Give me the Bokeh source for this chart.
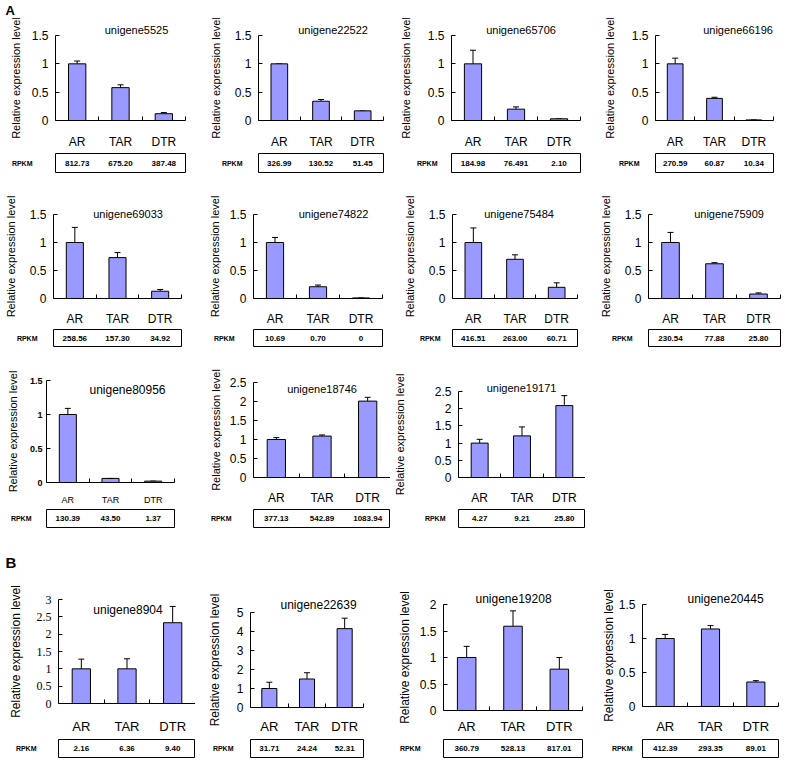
import numpy as np
from bokeh.plotting import figure
from bokeh.models import (Range1d, FactorRange, FixedTicker, CustomJSTickFormatter,
                          Label, Whisker, TeeHead, ColumnDataSource, Title)
from bokeh.layouts import row, column
from bokeh.embed import file_html
from bokeh.resources import INLINE
from bokeh.core.properties import value

# ---------------- data ----------------
categories = ["AR", "TAR", "DTR"]
genes = ["unigene5525", "unigene22522", "unigene65706", "unigene66196",
         "unigene69033", "unigene74822", "unigene75484", "unigene75909",
         "unigene80956", "unigene18746", "unigene19171",
         "unigene8904", "unigene22639", "unigene19208", "unigene20445"]
ar_expr = [1.00, 1.00, 1.00, 1.00, 1.00, 1.00, 1.00, 1.00, 1.00, 1.00, 1.00, 1.00, 1.00, 1.00, 1.00]
tar_expr = [0.58, 0.34, 0.20, 0.39, 0.73, 0.21, 0.70, 0.62, 0.06, 1.09, 1.21, 1.00, 1.50, 1.59, 1.14]
dtr_expr = [0.12, 0.17, 0.03, 0.01, 0.13, 0.01, 0.20, 0.08, 0.02, 2.01, 2.09, 2.33, 4.15, 0.78, 0.36]
ar_err = [0.05, 0.00, 0.24, 0.10, 0.27, 0.09, 0.26, 0.18, 0.09, 0.05, 0.11, 0.28, 0.33, 0.21, 0.06]
tar_err = [0.05, 0.03, 0.04, 0.02, 0.09, 0.03, 0.08, 0.02, 0.00, 0.03, 0.26, 0.29, 0.33, 0.29, 0.05]
dtr_err = [0.02, 0.00, 0.00, 0.00, 0.03, 0.00, 0.08, 0.02, 0.00, 0.10, 0.29, 0.47, 0.55, 0.22, 0.02]
ar_rpkm = ["812.73", "326.99", "184.98", "270.59", "258.56", "10.69", "416.51", "230.54",
           "130.39", "377.13", "4.27", "2.16", "31.71", "360.79", "412.39"]
tar_rpkm = ["675.20", "130.52", "76.491", "60.87", "157.30", "0.70", "263.00", "77.88",
            "43.50", "542.89", "9.21", "6.36", "24.24", "528.13", "293.35"]
dtr_rpkm = ["387.48", "51.45", "2.10", "10.34", "34.92", "0", "60.71", "25.80",
            "1.37", "1083.94", "25.80", "9.40", "52.31", "817.01", "89.01"]
y_max = [1.5, 1.5, 1.5, 1.5, 1.5, 1.5, 1.5, 1.5, 1.5, 2.5, 2.5, 3, 5, 2, 1.5]
y_step = [0.5, 0.5, 0.5, 0.5, 0.5, 0.5, 0.5, 0.5, 0.5, 0.5, 0.5, 0.5, 1, 0.5, 0.5]
ylabel = "Relative expression level"
panel_letters = ["A", "B"]

# ---------------- layout / style ----------------
BAR = "#9999FF"
SANS = "Liberation Sans"
SERIF = "Liberation Serif"
TOTAL_W = 787


def P(i, w, L, R, tL, tR, dx, dy, xs, T=None, B=None, **kw):
    d = dict(i=i, w=w, L=L, R=R, tL=tL, tR=tR, dx=dx, dy=dy, xs=xs, T=T, B=B,
             tick_size="12px", tick_font=SANS, tick_style="normal", cat_size="12px",
             title_px=11, ylab_size="11px", ls=7, als=7, ts=10)
    d.update(kw)
    return d


rows_spec = [
    dict(h=133, th=24, tT=2, tB=3, T=17, B=23, panels=[
        P(0, 195, 52, 7, 55, 10, 13, 6, 8, als=7, ts=17),
        P(1, 195, 63, 7, 53, 1, 12, 6, 8, als=10, ts=10),
        P(2, 195, 61, 5, 58, 1, 5, 6, 8, als=13, ts=8),
        P(3, 202, 61, 14, 70, 7, 19, 6, 8, als=13, ts=10),
    ]),
    dict(h=153, th=22, tT=1, tB=4, T=39, B=21, panels=[
        P(4, 195, 53, 5, 46, 14, 6, 1, 7, als=10, ts=10),
        P(5, 195, 58, 3, 58, 8, 13, 1, 7, als=6, ts=13),
        P(6, 195, 62, 8, 53, 2, 4, 1, 7, als=10, ts=6),
        P(7, 202, 62, 7, 63, 7, 14, 1, 7, als=10, ts=10),
    ]),
    dict(h=157, th=24, tT=2, tB=4, T=None, B=None, panels=[
        P(8, 195, 42, 0, 46, 21, 17, -9, 6, T=30, B=19, tick_size="9px", tick_style="bold",
          cat_size="9px", title_px=12, ls=4, als=8, ts=9),
        P(9, 195, 58, 0, 53, 0, 0, -6, 7, T=32, B=21, als=5, ts=16),
        P(10, 195, 63, 0, 55, 0, -3, 4, 7, T=41, B=21, als=26, ts=7),
    ]),
    dict(h=161, th=24, tT=3, tB=3, T=None, B=None, panels=[
        P(11, 195, 53, 0, 58, 0, 1, -10, 9, T=24, B=29, tick_font=SERIF, cat_size="13px",
          title_px=12, ylab_size="12px", als=11, ts=16),
        P(12, 195, 55, 0, 54, 27, -2, 7, 5, T=37, B=25, cat_size="13px",
          title_px=12, ylab_size="12px", als=12, ts=11),
        P(13, 195, 53, 0, 53, 3, -1, 5, 2, T=29, B=21, cat_size="13px",
          title_px=12, ylab_size="12px", als=5, ts=17),
        P(14, 202, 57, 7, 54, 9, 14, 5, 6, T=29, B=29, cat_size="13px",
          title_px=12, ylab_size="12px", als=0, ts=4),
    ]),
]


def add_title(p, d):
    i = d["i"]
    size = d["title_px"]
    if d["dy"] < 0:
        p.add_layout(Label(x=1.5, y=y_max[i], text=genes[i], x_offset=d["dx"], y_offset=d["dy"],
                           text_align="center", text_baseline="middle", text_font=SANS,
                           text_font_size=f"{size}px", text_color="black"))
    else:
        fw = d["w"] - d["L"] - d["R"]
        nd = len(genes[i]) - 7
        tw = (3.558 + 0.556 * nd) * size
        off = fw / 2 + d["dx"] - tw / 2
        s = 2 * (d["dy"] - 0.56 * size)
        p.title = Title(text=genes[i], align="left", offset=off, standoff=s,
                        vertical_align="bottom", text_font=SANS,
                        text_font_size=f"{size}px", text_font_style="normal",
                        text_color="black")


def make_chart(d, h, T, B):
    i = d["i"]
    p = figure(width=d["w"], height=h, x_range=Range1d(0, 3), y_range=Range1d(0, y_max[i]),
               output_backend="svg", toolbar_location=None,
               min_border_left=d["L"], min_border_right=d["R"],
               min_border_top=T, min_border_bottom=B)
    p.outline_line_color = None
    p.grid.visible = False
    vals = [ar_expr[i], tar_expr[i], dtr_expr[i]]
    errs = [ar_err[i], tar_err[i], dtr_err[i]]
    xs = [k + 0.5 for k in range(len(categories))]
    src = ColumnDataSource(dict(x=xs, top=vals, upper=[v + e for v, e in zip(vals, errs)]))
    p.vbar(x="x", top="top", width=0.4, source=src, fill_color=BAR,
           line_color="black", line_width=1)
    p.add_layout(Whisker(source=src, base="x", lower="top", upper="upper", dimension="height",
                         line_color="black", line_width=1,
                         upper_head=TeeHead(size=6, line_color="black", line_width=1),
                         lower_head=None))
    # x axis
    xa = p.xaxis[0]
    xa.ticker = FixedTicker(ticks=xs, minor_ticks=[1, 2, 3])
    xa.formatter = CustomJSTickFormatter(args=dict(labs=categories),
                                         code="return labs[Math.floor(tick)];")
    xa.major_tick_line_color = None
    xa.minor_tick_in = 4
    xa.minor_tick_out = 0
    xa.minor_tick_line_color = "black"
    xa.axis_line_color = "black"
    xa.major_label_standoff = d["xs"]
    xa.major_label_text_font = SANS
    xa.major_label_text_font_size = d["cat_size"]
    xa.major_label_text_color = "black"
    # y axis
    ya = p.yaxis[0]
    ticks = list(np.arange(0, y_max[i] + y_step[i] / 2, y_step[i]))
    ya.ticker = FixedTicker(ticks=ticks)
    ya.formatter = CustomJSTickFormatter(code="return String(Math.round(tick*10)/10);")
    ya.major_tick_in = 4
    ya.major_tick_out = 0
    ya.minor_tick_line_color = None
    ya.axis_line_color = "black"
    ya.major_label_standoff = d["ls"]
    ya.major_label_text_font = d["tick_font"]
    ya.major_label_text_font_size = d["tick_size"]
    ya.major_label_text_font_style = d["tick_style"]
    ya.major_label_text_color = "black"
    ya.axis_label = ylabel
    ya.axis_label_text_font = SANS
    ya.axis_label_text_font_style = "normal"
    ya.axis_label_text_font_size = d["ylab_size"]
    ya.axis_label_text_color = "black"
    ya.axis_label_standoff = d["als"]
    add_title(p, d)
    return p


def make_table(d, th, tT, tB):
    i = d["i"]
    t = figure(width=d["w"], height=th, x_range=Range1d(0, 3), y_range=FactorRange("RPKM"),
               output_backend="svg", toolbar_location=None, x_axis_location=None,
               min_border_left=d["tL"], min_border_right=d["tR"],
               min_border_top=tT, min_border_bottom=tB)
    t.outline_line_color = "black"
    t.outline_line_width = 1
    t.outline_line_alpha = 1
    t.grid.visible = False
    ya = t.yaxis[0]
    ya.axis_line_color = None
    ya.major_tick_line_color = None
    ya.minor_tick_line_color = None
    ya.major_label_text_font = SANS
    ya.major_label_text_font_style = "bold"
    ya.major_label_text_font_size = "7px"
    ya.major_label_text_color = "black"
    ya.major_label_standoff = d["ts"]
    xs = [k + 0.5 for k in range(len(categories))]
    t.text(x=xs, y=["RPKM"] * 3, text=[ar_rpkm[i], tar_rpkm[i], dtr_rpkm[i]],
           text_font=value(SANS), text_font_style="bold", text_font_size="8px",
           text_align="center", text_baseline="middle", text_color="black")
    return t


def make_header(letter, h, y_off, size):
    f = figure(width=TOTAL_W, height=h, x_range=Range1d(0, 1), y_range=Range1d(0, 1),
               output_backend="svg", toolbar_location=None,
               x_axis_location=None, y_axis_location=None,
               min_border_left=0, min_border_right=0, min_border_top=0, min_border_bottom=0)
    f.outline_line_color = None
    f.grid.visible = False
    f.add_layout(Label(x=0, y=0.5, text=letter, x_offset=5, y_offset=y_off,
                       text_align="left", text_baseline="middle", text_font=SANS,
                       text_font_style="bold", text_font_size=size, text_color="black"))
    return f


rows = []
for rs in rows_spec:
    cols = []
    for d in rs["panels"]:
        T = d["T"] if d["T"] is not None else rs["T"]
        B = d["B"] if d["B"] is not None else rs["B"]
        c = make_chart(d, rs["h"], T, B)
        t = make_table(d, rs["th"], rs["tT"], rs["tB"])
        cols.append(column(c, t, spacing=0))
    rows.append(row(*cols, spacing=0))

header_a = make_header(panel_letters[0], 18, -1, "13px")
header_b = make_header(panel_letters[1], 44, -9, "15px")

layout = column(header_a, rows[0], rows[1], rows[2], header_b, rows[3], spacing=0)
open("out.html", "w").write(file_html(layout, INLINE))
